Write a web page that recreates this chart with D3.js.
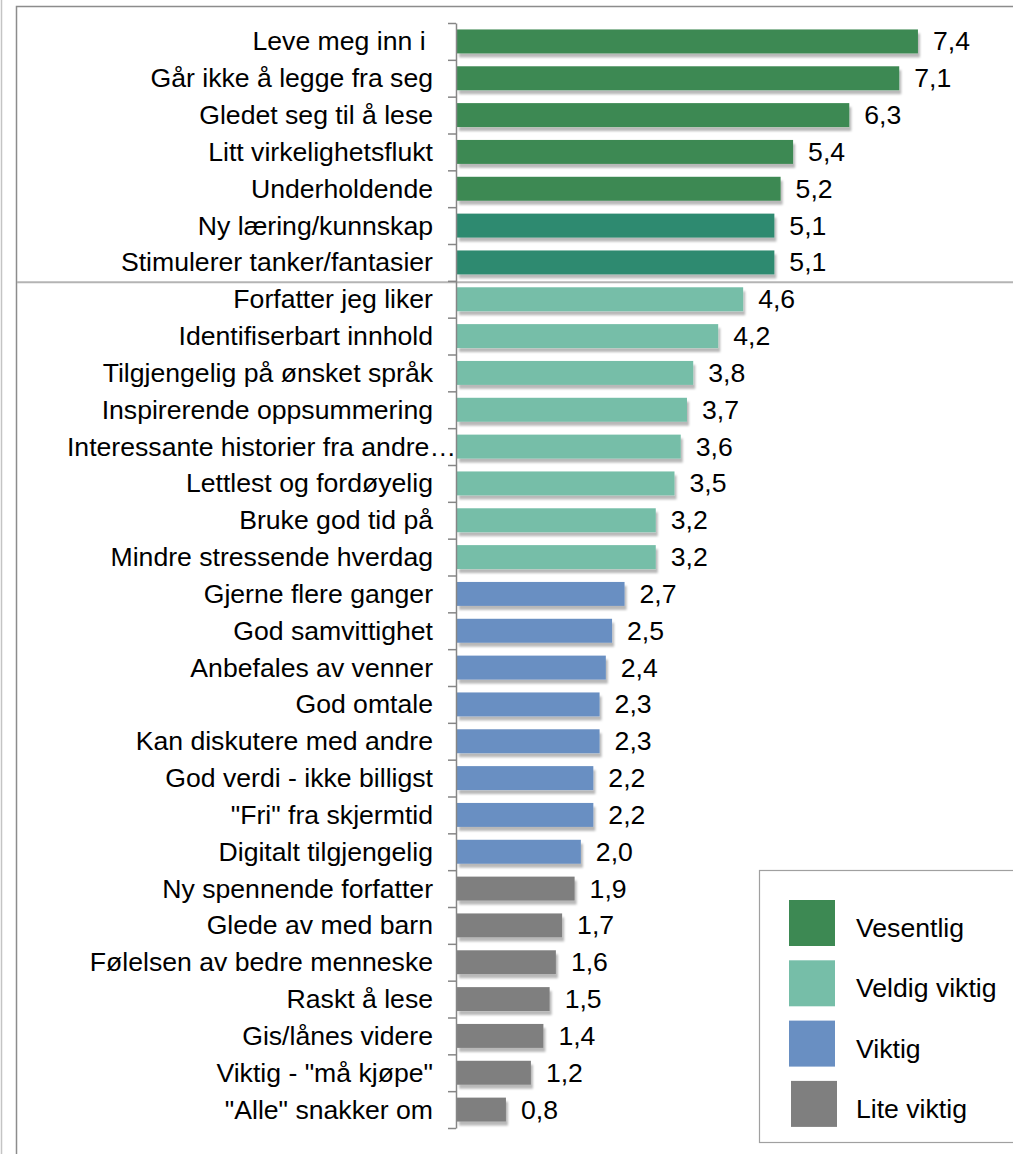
<!DOCTYPE html>
<html>
<head>
<meta charset="utf-8">
<script src="https://cdn.jsdelivr.net/npm/d3@7"></script>
<style>
  body { margin: 0; background: #fff; }
  text { font-family: "Liberation Sans", Arial, sans-serif; fill: #000; }
</style>
</head>
<body>
<div class="chart"></div>
<script>
var w = 1013, h = 1154;

// categories, top to bottom
var labels = [
	"Leve meg inn i ", "Går ikke å legge fra seg", "Gledet seg til å lese",
	"Litt virkelighetsflukt", "Underholdende", "Ny læring/kunnskap",
	"Stimulerer tanker/fantasier", "Forfatter jeg liker", "Identifiserbart innhold",
	"Tilgjengelig på ønsket språk", "Inspirerende oppsummering",
	"Interessante historier fra andre…", "Lettlest og fordøyelig", "Bruke god tid på",
	"Mindre stressende hverdag", "Gjerne flere ganger", "God samvittighet",
	"Anbefales av venner", "God omtale", "Kan diskutere med andre",
	"God verdi - ikke billigst", "\"Fri\" fra skjermtid", "Digitalt tilgjengelig",
	"Ny spennende forfatter", "Glede av med barn", "Følelsen av bedre menneske",
	"Raskt å lese", "Gis/lånes videre", "Viktig - \"må kjøpe\"", "\"Alle\" snakker om"
];
var values = [7.4, 7.1, 6.3, 5.4, 5.2, 5.1, 5.1, 4.6, 4.2, 3.8, 3.7, 3.6, 3.5, 3.2, 3.2,
	2.7, 2.5, 2.4, 2.3, 2.3, 2.2, 2.2, 2.0, 1.9, 1.7, 1.6, 1.5, 1.4, 1.2, 0.8];
// group of each bar (Vesentlig+ = the two teal-ish "Vesentlig" bars)
var groups = ["Vesentlig", "Vesentlig", "Vesentlig", "Vesentlig", "Vesentlig",
	"Vesentlig+", "Vesentlig+",
	"Veldig viktig", "Veldig viktig", "Veldig viktig", "Veldig viktig",
	"Veldig viktig", "Veldig viktig", "Veldig viktig", "Veldig viktig",
	"Viktig", "Viktig", "Viktig", "Viktig", "Viktig", "Viktig", "Viktig", "Viktig",
	"Lite viktig", "Lite viktig", "Lite viktig", "Lite viktig", "Lite viktig",
	"Lite viktig", "Lite viktig"];
var legendItems = ["Vesentlig", "Veldig viktig", "Viktig", "Lite viktig"];

var color = d3.scaleOrdinal()
	.domain(["Vesentlig", "Vesentlig+", "Veldig viktig", "Viktig", "Lite viktig"])
	.range(["#3d8953", "#2f8a70", "#76bea8", "#698fc2", "#7f7f7f"]);

var x = d3.scaleLinear().domain([0, 8]).range([456, 955.4]);
var y = d3.scaleBand().domain(d3.range(labels.length)).range([23, 1128])
	.paddingInner(0.35).paddingOuter(0.175);
var yEdge = d3.scaleLinear().domain([0, labels.length]).range([23, 1128]);

var fmt = function(v) { return d3.format(".1f")(v).replace(".", ","); };
var stretch = 1.065; // text in the picture is a bit wide

var svg = d3.select(".chart").append("svg")
	.attr("width", w)
	.attr("height", h);

var defs = svg.append("defs");
defs.append("filter")
	.attr("id", "shadow")
	.attr("x", "-5%").attr("y", "-20%")
	.attr("width", "120%").attr("height", "160%")
	.append("feDropShadow")
	.attr("dx", 2).attr("dy", 4)
	.attr("stdDeviation", 1.2)
	.attr("flood-color", "#000")
	.attr("flood-opacity", 0.28);

// frames
svg.append("line")
	.attr("x1", 1.5).attr("x2", 1.5).attr("y1", 0).attr("y2", h)
	.attr("stroke", "#c4c4c4").attr("stroke-width", 1.5);
svg.append("path")
	.attr("d", "M16.5," + h + "V6.5H" + w)
	.attr("fill", "none").attr("stroke", "#8c8c8c").attr("stroke-width", 1.5);

// divider between the two blocks
svg.append("line")
	.attr("x1", 17).attr("x2", w)
	.attr("y1", yEdge(7) + 1.5).attr("y2", yEdge(7) + 1.5)
	.attr("stroke", "#b4b4b4").attr("stroke-width", 2);

// bars
svg.append("g").selectAll("rect")
	.data(values)
	.enter()
	.append("rect")
	.attr("x", x(0) + 1)
	.attr("y", function(d, i) { return y(i); })
	.attr("width", function(d) { return x(d) - x(0) - 1; })
	.attr("height", y.bandwidth())
	.attr("fill", function(d, i) { return color(groups[i]); })
	.attr("filter", "url(#shadow)");

// value labels
svg.append("g").selectAll("text")
	.data(values)
	.enter()
	.append("text")
	.attr("transform", function(d, i) {
		return "translate(" + (x(d) + 15) + "," + (y(i) + y.bandwidth() / 2) + ") scale(" + stretch + ",1)";
	})
	.attr("dy", "0.36em")
	.style("font-size", "25px")
	.text(fmt);

// category labels
svg.append("g").selectAll("text")
	.data(labels)
	.enter()
	.append("text")
	.attr("transform", function(d, i) {
		var tx = /…$/.test(d) ? 456 : 433;
		return "translate(" + tx + "," + (y(i) + y.bandwidth() / 2) + ") scale(" + stretch + ",1)";
	})
	.attr("dy", "0.36em")
	.attr("text-anchor", "end")
	.style("font-size", "25px")
	.style("white-space", "pre")
	.text(function(d) { return d; });

// category axis, ticks between categories
svg.append("g")
	.attr("transform", "translate(" + x(0) + ",0)")
	.call(d3.axisLeft(yEdge).tickValues(d3.range(labels.length + 1))
		.tickSize(8).tickSizeOuter(0).tickFormat(""))
	.call(function(g) {
		g.selectAll("line, path").attr("stroke", "#868686").attr("stroke-width", 1.5);
	});

// legend
var lg = svg.append("g");
lg.append("rect")
	.attr("x", 759.5).attr("y", 870.5)
	.attr("width", 270).attr("height", 272)
	.attr("fill", "#fff").attr("stroke", "#a0a0a0").attr("stroke-width", 1.2);
var item = lg.selectAll("g")
	.data(legendItems)
	.enter()
	.append("g")
	.attr("transform", function(d, i) { return "translate(0," + (900 + i * 60.3) + ")"; });
item.append("rect")
	.attr("x", function(d, i) { return i === 3 ? 791 : 789; })
	.attr("width", 46).attr("height", 46)
	.attr("fill", function(d) { return color(d); });
item.append("text")
	.attr("transform", "translate(856,28) scale(" + stretch + ",1)")
	.attr("dy", "0.36em")
	.style("font-size", "25px")
	.text(function(d) { return d; });
</script>
</body>
</html>
